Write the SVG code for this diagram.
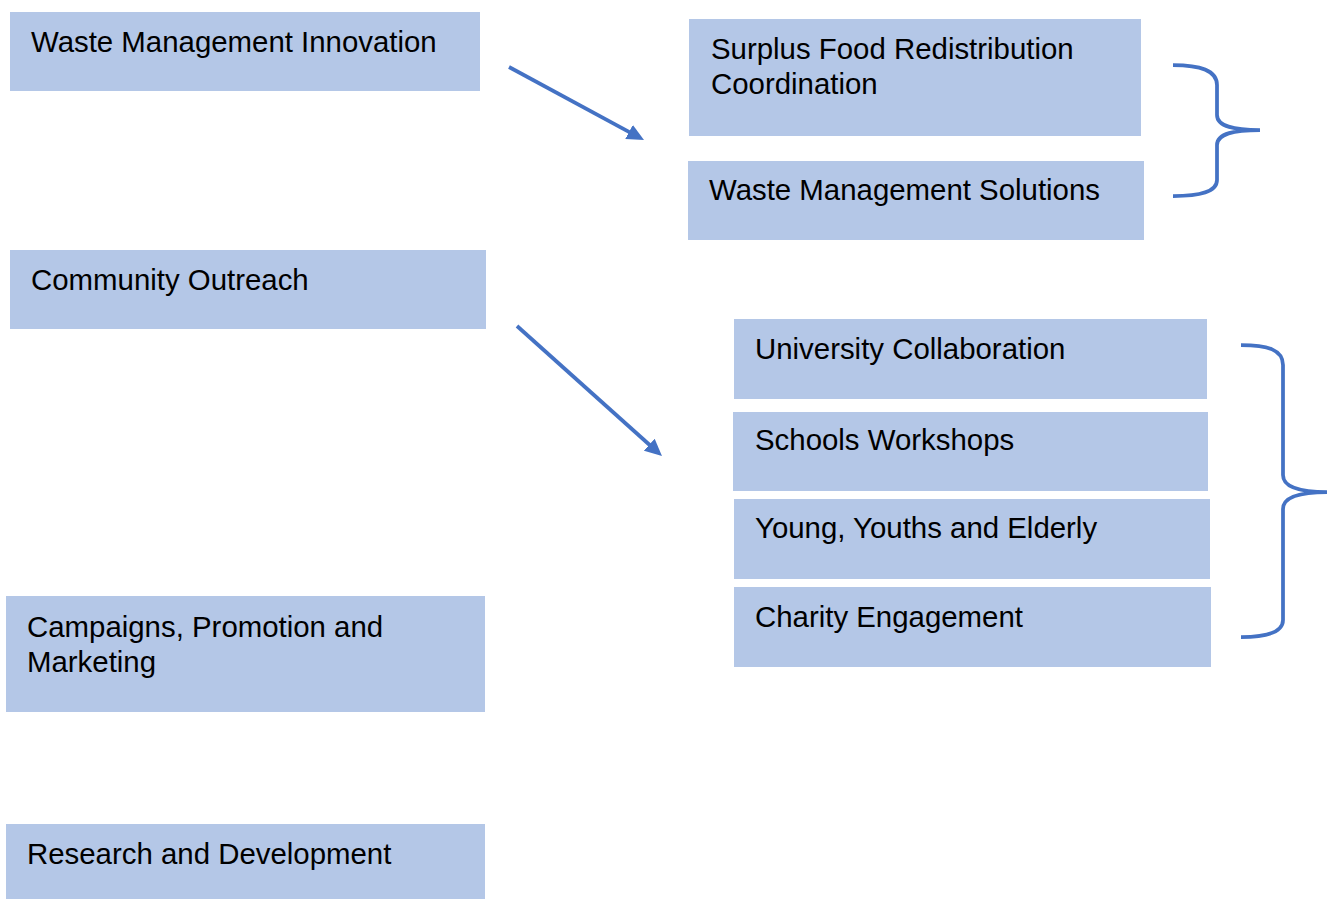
<svg xmlns="http://www.w3.org/2000/svg" width="1330" height="900" viewBox="0 0 1330 900">
  <style>
    .box { fill: #B4C7E7; }
    .lbl { font-family: "Liberation Sans", Arial, sans-serif; font-size: 29.4px; fill: #000; }
    .conn { fill: none; stroke: #4472C4; stroke-width: 3.75; }
  </style>
  <defs>
    <marker id="arrowhead" markerUnits="userSpaceOnUse" markerWidth="20" markerHeight="16" refX="2" refY="8" orient="auto">
      <path d="M0,0 L17,8 L0,16 z" fill="#4472C4"/>
    </marker>
  </defs>
  <rect width="1330" height="900" fill="#fff"/>

  <!-- left column -->
  <g id="waste-management-innovation">
    <rect class="box" x="10" y="12" width="470" height="79"/>
    <text class="lbl" x="31" y="52">Waste Management Innovation</text>
  </g>
  <g id="community-outreach">
    <rect class="box" x="10" y="250" width="476" height="79"/>
    <text class="lbl" x="31" y="290">Community Outreach</text>
  </g>
  <g id="campaigns">
    <rect class="box" x="6" y="596" width="479" height="116"/>
    <text class="lbl" x="27" y="637">Campaigns, Promotion and</text>
    <text class="lbl" x="27" y="672">Marketing</text>
  </g>
  <g id="research">
    <rect class="box" x="6" y="824" width="479" height="75"/>
    <text class="lbl" x="27" y="864">Research and Development</text>
  </g>

  <!-- right column: waste management branch -->
  <g id="surplus-food">
    <rect class="box" x="689" y="19" width="452" height="117"/>
    <text class="lbl" x="711" y="59">Surplus Food Redistribution</text>
    <text class="lbl" x="711" y="94">Coordination</text>
  </g>
  <g id="waste-solutions">
    <rect class="box" x="688" y="161" width="456" height="79"/>
    <text class="lbl" x="709" y="200">Waste Management Solutions</text>
  </g>

  <!-- right column: outreach branch -->
  <g id="university">
    <rect class="box" x="734" y="319" width="473" height="80"/>
    <text class="lbl" x="755" y="359">University Collaboration</text>
  </g>
  <g id="schools">
    <rect class="box" x="733" y="412" width="475" height="79"/>
    <text class="lbl" x="755" y="450">Schools Workshops</text>
  </g>
  <g id="young-youths-elderly">
    <rect class="box" x="734" y="499" width="476" height="80"/>
    <text class="lbl" x="755" y="538">Young, Youths and Elderly</text>
  </g>
  <g id="charity">
    <rect class="box" x="734" y="587" width="477" height="80"/>
    <text class="lbl" x="755" y="627">Charity Engagement</text>
  </g>

  <!-- connectors and braces -->
  <g id="connectors">
    <line class="conn" x1="509" y1="67" x2="630.8" y2="132.9" marker-end="url(#arrowhead)"/>
    <line class="conn" x1="517" y1="326" x2="650.8" y2="446" marker-end="url(#arrowhead)"/>
    <path class="conn" d="M1173,65 C1200,65 1217,70 1217,85 L1217,115 C1217,127 1235,130 1260,130 C1235,130 1217,133 1217,145 L1217,180 C1217,192 1200,196 1173,196"/>
    <path class="conn" d="M1241,345 C1268,345 1283,350 1283,365 L1283,475 C1283,487 1300,492 1327,492 C1300,492 1283,497 1283,509 L1283,620 C1283,632 1268,637 1241,637"/>
  </g>
</svg>
